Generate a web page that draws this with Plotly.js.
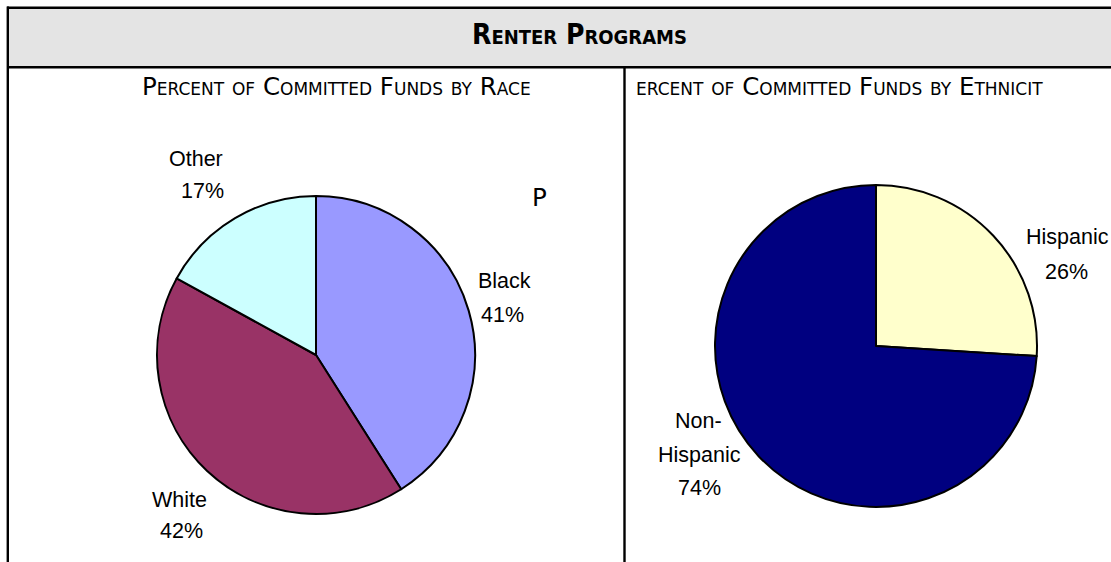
<!DOCTYPE html>
<html>
<head>
<meta charset="utf-8">
<script src="https://cdn.plot.ly/plotly-3.0.1.min.js"></script>
<style>
html,body{margin:0;padding:0;background:#fff;}
#chart{width:1111px;height:562px;}
</style>
</head>
<body>
<div id="chart"></div>
<script>
// ---- data ----
const headerTitle = 'Renter Programs';
const raceTitle = 'Percent of Committed Funds by Race';
const ethTitle = 'Percent of Committed Funds by Ethnicity';
const raceLabels = ['Black', 'White', 'Other'];
const raceValues = [41, 42, 17];
const raceColors = ['#9999ff', '#993366', '#ccffff'];
const ethLabels = ['Hispanic', 'Non-Hispanic'];
const ethValues = [26, 74];
const ethColors = ['#ffffcc', '#000080'];

// ---- layout helpers ----
const W = 1111, H = 562;
const px = x => x / W;
const py = y => 1 - y / H;

const labelFont = {family: '"Liberation Sans", Arial, sans-serif', size: 21.5, color: '#000'};
const titleFont = {family: '"DejaVu Sans", "Noto Sans", sans-serif', size: 24.5, color: '#000', variant: 'small-caps'};
const headFont = {family: '"DejaVu Sans Condensed", "DejaVu Sans", sans-serif', size: 28, color: '#000', weight: 'bold', variant: 'small-caps'};

// label placement (pixels) for [name lines..., percent]
const racePos = [
  {lines: [[504, 281]], pct: [502, 315]},
  {lines: [[179, 500]], pct: [181, 531]},
  {lines: [[196, 159]], pct: [202, 191]}
];
const ethPos = [
  {lines: [[1067, 237]], pct: [1066, 272]},
  {lines: [[698, 421], [699, 455]], pct: [699, 488]}
];

function labelAnns(labels, values, pos) {
  const anns = [];
  labels.forEach((lab, i) => {
    const parts = lab.indexOf('Non-') === 0 ? ['Non-', lab.slice(4)] : [lab];
    parts.forEach((t, j) => {
      const p = pos[i].lines[j];
      anns.push({text: t, x: px(p[0]), y: py(p[1]), xref: 'paper', yref: 'paper',
        xanchor: 'center', yanchor: 'middle', showarrow: false, font: labelFont});
    });
    const q = pos[i].pct;
    anns.push({text: values[i] + '%', x: px(q[0]), y: py(q[1]), xref: 'paper', yref: 'paper',
      xanchor: 'center', yanchor: 'middle', showarrow: false, font: labelFont});
  });
  return anns;
}

const traces = [
  {
    type: 'pie', labels: raceLabels, values: raceValues, sort: false,
    direction: 'clockwise', rotation: 0, textinfo: 'none', hoverinfo: 'label+percent',
    marker: {colors: raceColors, line: {color: '#000', width: 2}},
    domain: {x: [px(157), px(475)], y: [py(514), py(196)]},
    showlegend: false
  },
  {
    type: 'pie', labels: ethLabels, values: ethValues, sort: false,
    direction: 'clockwise', rotation: 0, textinfo: 'none', hoverinfo: 'label+percent',
    marker: {colors: ethColors, line: {color: '#000', width: 2}},
    domain: {x: [px(715), px(1037)], y: [py(507), py(185)]},
    showlegend: false
  }
];

const lineStyle = {color: '#000', width: 2.4};
const shapes = [
  {type: 'rect', xref: 'paper', yref: 'paper', x0: px(8), x1: px(1120), y0: py(67), y1: py(8),
    fillcolor: '#e4e4e4', line: {width: 0}, layer: 'below'},
  {type: 'line', xref: 'paper', yref: 'paper', x0: px(7), x1: px(1120), y0: py(7.8), y1: py(7.8), line: lineStyle},
  {type: 'line', xref: 'paper', yref: 'paper', x0: px(7.8), x1: px(7.8), y0: py(6.6), y1: py(570), line: lineStyle},
  {type: 'line', xref: 'paper', yref: 'paper', x0: px(7), x1: px(1120), y0: py(67.2), y1: py(67.2), line: lineStyle},
  {type: 'line', xref: 'paper', yref: 'paper', x0: px(624.5), x1: px(624.5), y0: py(67), y1: py(570), line: lineStyle}
];

const annotations = [
  {text: headerTitle, x: px(579), y: py(34), xref: 'paper', yref: 'paper', xanchor: 'center', yanchor: 'middle',
    showarrow: false, font: headFont},
  {text: raceTitle, x: px(336), y: py(86), xref: 'paper', yref: 'paper', xanchor: 'center', yanchor: 'middle',
    showarrow: false, font: titleFont},
  // the ethnicity title is clipped by its cell: its first letter spills into the left cell, its last is cut off
  {text: ethTitle.slice(1, -1), x: px(634), y: py(86), xref: 'paper', yref: 'paper', xanchor: 'left', yanchor: 'middle',
    showarrow: false, font: titleFont},
  {text: ethTitle.slice(0, 1), x: px(539), y: py(197), xref: 'paper', yref: 'paper', xanchor: 'center', yanchor: 'middle',
    showarrow: false, font: titleFont}
].concat(labelAnns(raceLabels, raceValues, racePos), labelAnns(ethLabels, ethValues, ethPos));

const layout = {
  width: W, height: H,
  margin: {l: 0, r: 0, t: 0, b: 0},
  paper_bgcolor: '#fff', plot_bgcolor: '#fff',
  shapes: shapes, annotations: annotations, showlegend: false
};

Plotly.newPlot('chart', traces, layout, {displayModeBar: false, staticPlot: true});
</script>
</body>
</html>
